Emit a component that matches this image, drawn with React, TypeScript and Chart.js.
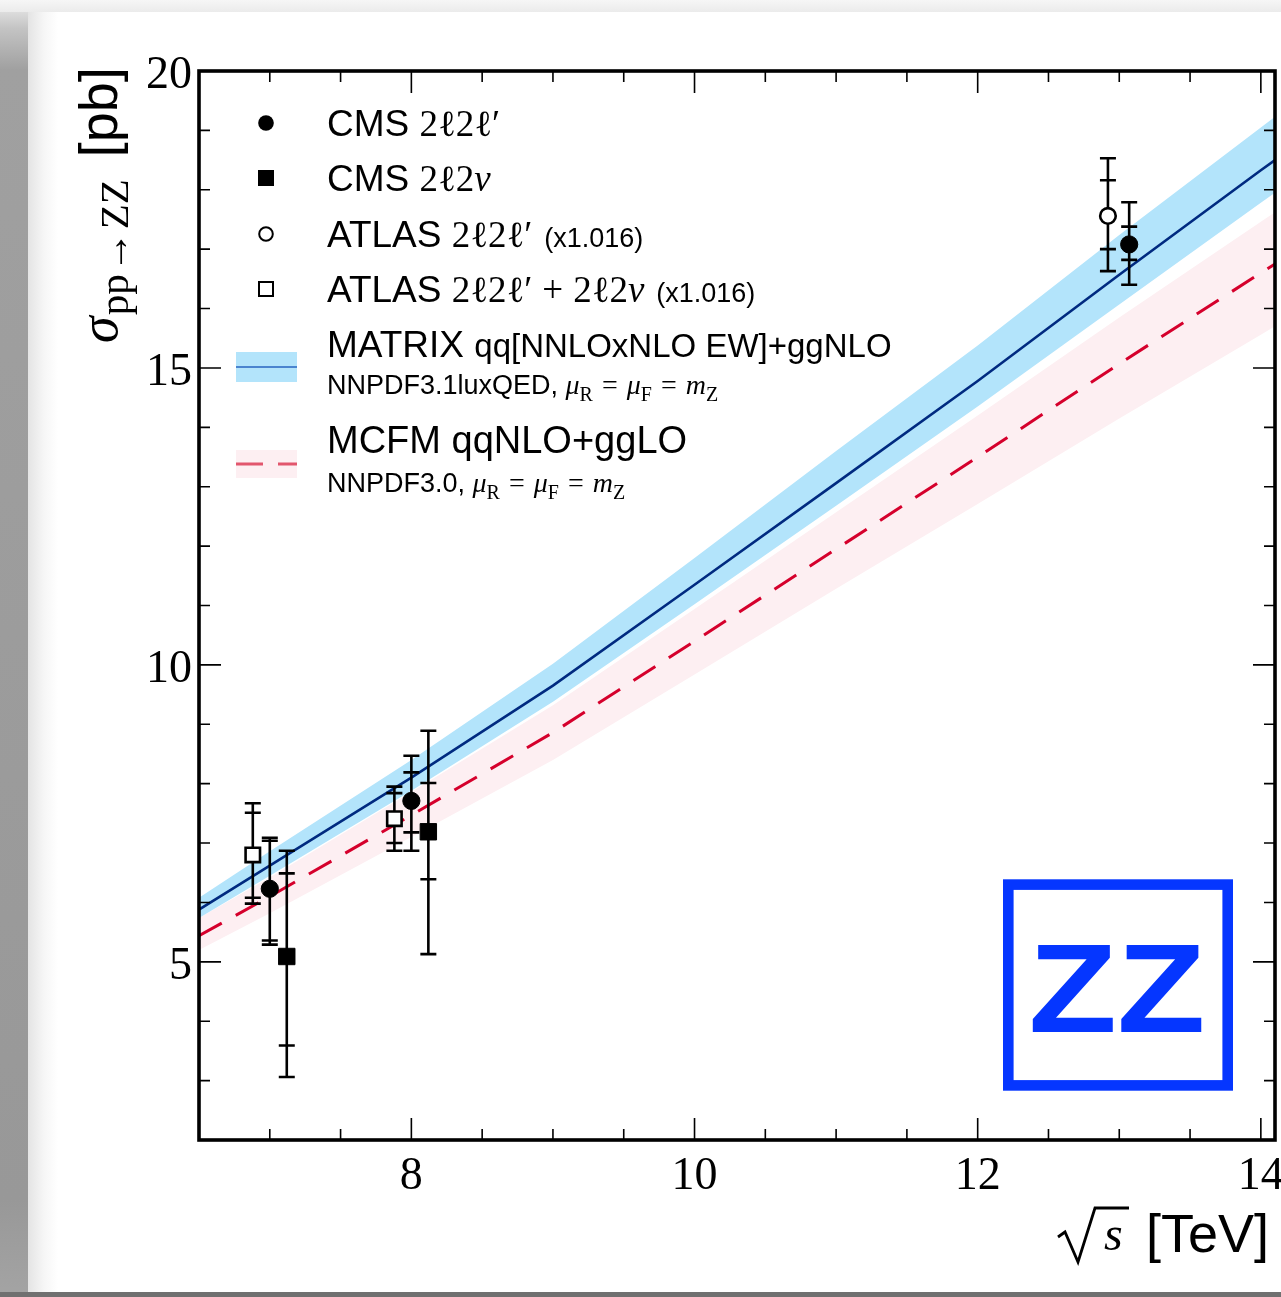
import React, { useEffect, useRef } from 'react';
import { Chart, registerables } from 'chart.js';

Chart.register(...registerables);

// ---------- data ----------
const ENERGY_TH = [6.5, 7, 8, 9, 10, 11, 12, 13, 14, 14.1];
const MATRIX_C = [5.88, 6.62, 8.1, 9.65, 11.35, 13.06, 14.78, 16.57, 18.33, 18.5];
const MATRIX_HI = [6.08, 6.86, 8.4, 10.02, 11.8, 13.6, 15.38, 17.24, 19.05, 19.23];
const MATRIX_LO = [5.74, 6.45, 7.88, 9.38, 11.02, 12.68, 14.35, 16.07, 17.78, 17.95];
const MCFM_C = [5.44, 6.1, 7.47, 8.86, 10.4, 11.95, 13.5, 15.07, 16.6, 16.75];
const MCFM_HI = [5.74, 6.42, 7.86, 9.32, 10.94, 12.57, 14.2, 15.85, 17.46, 17.62];
const MCFM_LO = [5.2, 5.82, 7.1, 8.4, 9.84, 11.28, 12.71, 14.15, 15.56, 15.7];

const CMS4L_X = [7.0, 8.0, 13.07];
const CMS4L_Y = [6.23, 7.71, 17.08];
const CMS4L_STAT_LO = [5.36, 7.18, 16.82];
const CMS4L_STAT_HI = [7.04, 8.19, 17.38];
const CMS4L_TOT_LO = [5.29, 6.87, 16.4];
const CMS4L_TOT_HI = [7.09, 8.47, 17.79];

const CMS2L2N_X = [7.12, 8.12];
const CMS2L2N_Y = [5.09, 7.19];
const CMS2L2N_STAT_LO = [3.59, 6.39];
const CMS2L2N_STAT_HI = [6.49, 8.01];
const CMS2L2N_TOT_LO = [3.06, 5.13];
const CMS2L2N_TOT_HI = [6.87, 8.89];

const ATLAS4L_X = [12.92];
const ATLAS4L_Y = [17.56];
const ATLAS4L_STAT_LO = [17.0];
const ATLAS4L_STAT_HI = [18.16];
const ATLAS4L_TOT_LO = [16.63];
const ATLAS4L_TOT_HI = [18.53];

const ATLASC_X = [6.88, 7.88];
const ATLASC_Y = [6.8, 7.41];
const ATLASC_STAT_LO = [6.08, 7.0];
const ATLASC_STAT_HI = [7.51, 7.84];
const ATLASC_TOT_LO = [5.98, 6.87];
const ATLASC_TOT_HI = [7.67, 7.95];

const X_MIN = 6.5;
const X_MAX = 14.1;
const Y_MIN = 2;
const Y_MAX = 20;
const X_TICK_LABELS = [8, 10, 12, 14];
const Y_TICK_LABELS = [5, 10, 15, 20];
const X_MINOR_STEP = 0.5;
const Y_MINOR_STEP = 1;

const LEGEND_CMS = 'CMS';
const LEGEND_ATLAS = 'ATLAS';
const LEGEND_SCALE = '(x1.016)';
const LEGEND_MATRIX = 'MATRIX';
const LEGEND_MATRIX_DESC = 'qq[NNLOxNLO EW]+ggNLO';
const LEGEND_MATRIX_PDF = 'NNPDF3.1luxQED, ';
const LEGEND_MCFM = 'MCFM qqNLO+ggLO';
const LEGEND_MCFM_PDF = 'NNPDF3.0, ';

// ---------- style ----------
const SANS = '"Liberation Sans", Arial, Helvetica, sans-serif';
const SERIF = '"Liberation Serif", "DejaVu Serif", "Times New Roman", serif';
const OFF_X = 28;
const OFF_Y = 12;
const BLUE_BAND = '#b3e4fb';
const PINK_BAND = '#fdeff2';
const NAVY = '#002a80';
const RED = '#d5002c';

const pts = (xs: number[], ys: number[]) => xs.map((x, i) => ({ x, y: ys[i] }));

type Seg = { t: string; f: string; dy?: number; dx?: number };
function drawRich(ctx: CanvasRenderingContext2D, segs: Seg[], x: number, y: number) {
  let cx = x;
  for (const s of segs) {
    ctx.font = s.f;
    cx += s.dx || 0;
    ctx.fillText(s.t, cx, y + (s.dy || 0));
    cx += ctx.measureText(s.t).width;
  }
  return cx;
}

function muSegs(size: number): Seg[] {
  const it = `italic ${size}px ${SERIF}`;
  const rm = `${size}px ${SERIF}`;
  const sub = `${Math.round(size * 0.72)}px ${SERIF}`;
  const d = size * 0.24;
  return [
    { t: 'μ', f: it },
    { t: 'R', f: sub, dy: d },
    { t: '=', f: rm, dx: 9 },
    { t: 'μ', f: it, dx: 9 },
    { t: 'F', f: sub, dy: d },
    { t: '=', f: rm, dx: 9 },
    { t: 'm', f: it, dx: 9 },
    { t: 'Z', f: sub, dy: d },
  ];
}

const errorBarPlugin = {
  id: 'errbars',
  beforeDatasetDraw(chart: any, args: any) {
    const ds: any = chart.data.datasets[args.index];
    if (!ds.errTotLo) return;
    const { ctx } = chart;
    const xs = chart.scales.x;
    const ys = chart.scales.y;
    ctx.save();
    ctx.strokeStyle = '#000';
    ctx.lineWidth = 2.6;
    const hw = 8;
    ds.data.forEach((p: any, i: number) => {
      const px = xs.getPixelForValue(p.x);
      const lo = ys.getPixelForValue(ds.errTotLo[i]);
      const hi = ys.getPixelForValue(ds.errTotHi[i]);
      const slo = ys.getPixelForValue(ds.errStatLo[i]);
      const shi = ys.getPixelForValue(ds.errStatHi[i]);
      ctx.beginPath();
      ctx.moveTo(px, lo);
      ctx.lineTo(px, hi);
      for (const yy of [lo, hi, slo, shi]) {
        ctx.moveTo(px - hw, yy);
        ctx.lineTo(px + hw, yy);
      }
      ctx.stroke();
    });
    ctx.restore();
  },
};

const decorPlugin = {
  id: 'decor',
  afterDraw(chart: any) {
    const { ctx, chartArea: a } = chart;
    const xs = chart.scales.x;
    const ys = chart.scales.y;
    ctx.save();
    // ticks
    ctx.strokeStyle = '#000';
    ctx.lineWidth = 1.6;
    ctx.beginPath();
    const isMajor = (v: number, arr: number[]) => arr.some((m) => Math.abs(m - v) < 1e-6);
    for (let v = Math.ceil(X_MIN / X_MINOR_STEP) * X_MINOR_STEP; v <= X_MAX + 1e-6; v += X_MINOR_STEP) {
      if (Math.abs(v - X_MIN) < 1e-6) continue;
      const px = xs.getPixelForValue(v);
      const len = isMajor(v, X_TICK_LABELS) ? 22 : 11;
      ctx.moveTo(px, a.bottom);
      ctx.lineTo(px, a.bottom - len);
      ctx.moveTo(px, a.top);
      ctx.lineTo(px, a.top + len);
    }
    for (let v = Y_MIN + Y_MINOR_STEP; v < Y_MAX - 1e-6; v += Y_MINOR_STEP) {
      const py = ys.getPixelForValue(v);
      const len = isMajor(v, Y_TICK_LABELS) ? 22 : 11;
      ctx.moveTo(a.left, py);
      ctx.lineTo(a.left + len, py);
      ctx.moveTo(a.right, py);
      ctx.lineTo(a.right - len, py);
    }
    ctx.stroke();
    // frame
    ctx.lineWidth = 3.6;
    ctx.strokeRect(a.left, a.top, a.right - a.left, a.bottom - a.top);

    // tick labels
    ctx.fillStyle = '#000';
    ctx.font = `46px ${SERIF}`;
    ctx.textAlign = 'right';
    ctx.textBaseline = 'alphabetic';
    for (const v of Y_TICK_LABELS) {
      ctx.fillText(String(v), a.left - 7, ys.getPixelForValue(v) + 17);
    }
    ctx.textAlign = 'center';
    for (const v of X_TICK_LABELS) {
      ctx.fillText(String(v), xs.getPixelForValue(v), a.bottom + 49);
    }

    // page-coordinate overlays
    ctx.translate(-OFF_X, -OFF_Y);
    ctx.textAlign = 'left';

    // y title
    ctx.save();
    ctx.translate(117, 343);
    ctx.rotate(-Math.PI / 2);
    drawRich(
      ctx,
      [
        { t: 'σ', f: `italic 54px ${SERIF}` },
        { t: 'pp', f: `41px ${SERIF}`, dy: 11, dx: 1 },
        { t: '→', f: `41px ${SERIF}`, dy: 11, dx: 2 },
        { t: 'ZZ', f: `41px ${SERIF}`, dy: 11, dx: 2 },
        { t: '[pb]', f: `54px ${SANS}`, dx: 22 },
      ],
      0,
      0
    );
    ctx.restore();

    // x title
    ctx.beginPath();
    ctx.lineWidth = 2.8;
    ctx.lineJoin = 'miter';
    ctx.moveTo(1058, 1237);
    ctx.lineTo(1065, 1232);
    ctx.lineTo(1078, 1262);
    ctx.lineTo(1095, 1208);
    ctx.lineTo(1129, 1208);
    ctx.stroke();
    ctx.font = `italic 48px ${SERIF}`;
    ctx.fillText('s', 1104, 1250);
    ctx.font = `54px ${SANS}`;
    ctx.fillText('[TeV]', 1146, 1252);

    // ZZ logo
    ctx.strokeStyle = '#0536ff';
    ctx.lineWidth = 10.6;
    ctx.strokeRect(1008.3, 884.6, 219.4, 200.8);
    ctx.save();
    ctx.translate(1117, 1032);
    ctx.scale(1.14, 1);
    ctx.fillStyle = '#0536ff';
    ctx.textAlign = 'center';
    ctx.font = `bold 127px ${SANS}`;
    ctx.fillText('ZZ', 0, 0);
    ctx.restore();

    // legend
    const L = 37;
    const sans = `${L}px ${SANS}`;
    const serif = `${L}px ${SERIF}`;
    const serifIt = `italic ${L}px ${SERIF}`;
    const small = `27px ${SANS}`;
    const mx = 266;
    const tx = 327;
    ctx.fillStyle = '#000';
    ctx.strokeStyle = '#000';
    // row 1: filled circle
    ctx.beginPath();
    ctx.arc(mx, 123, 7.8, 0, Math.PI * 2);
    ctx.fill();
    drawRich(ctx, [{ t: LEGEND_CMS + ' ', f: sans }, { t: '2ℓ2ℓ′', f: serif }], tx, 136);
    // row 2: filled square
    ctx.fillRect(mx - 8, 178 - 8, 16, 16);
    drawRich(ctx, [{ t: LEGEND_CMS + ' ', f: sans }, { t: '2ℓ2', f: serif }, { t: 'ν', f: serifIt }], tx, 191);
    // row 3: open circle
    ctx.lineWidth = 2;
    ctx.beginPath();
    ctx.arc(mx, 234, 6.8, 0, Math.PI * 2);
    ctx.stroke();
    drawRich(
      ctx,
      [
        { t: LEGEND_ATLAS + ' ', f: sans },
        { t: '2ℓ2ℓ′', f: serif },
        { t: LEGEND_SCALE, f: small, dx: 12 },
      ],
      tx,
      247
    );
    // row 4: open square
    ctx.strokeRect(mx - 7, 289 - 7, 14, 14);
    drawRich(
      ctx,
      [
        { t: LEGEND_ATLAS + ' ', f: sans },
        { t: '2ℓ2ℓ′', f: serif },
        { t: '+', f: serif, dx: 10 },
        { t: '2ℓ2', f: serif, dx: 10 },
        { t: 'ν', f: serifIt },
        { t: LEGEND_SCALE, f: small, dx: 12 },
      ],
      tx,
      302
    );
    // row 5: MATRIX band
    ctx.fillStyle = BLUE_BAND;
    ctx.fillRect(236, 352, 61, 30);
    ctx.strokeStyle = '#4a84cf';
    ctx.lineWidth = 2.2;
    ctx.beginPath();
    ctx.moveTo(236, 367);
    ctx.lineTo(297, 367);
    ctx.stroke();
    ctx.fillStyle = '#000';
    drawRich(
      ctx,
      [
        { t: LEGEND_MATRIX + ' ', f: sans },
        { t: LEGEND_MATRIX_DESC, f: `33px ${SANS}` },
      ],
      tx,
      357
    );
    drawRich(ctx, [{ t: LEGEND_MATRIX_PDF, f: `27px ${SANS}` }, ...muSegs(28)], tx, 394);
    // row 6: MCFM band
    ctx.fillStyle = PINK_BAND;
    ctx.fillRect(236, 450, 61, 28);
    ctx.strokeStyle = '#e2566d';
    ctx.lineWidth = 3;
    ctx.setLineDash([27, 15]);
    ctx.beginPath();
    ctx.moveTo(236, 464);
    ctx.lineTo(297, 464);
    ctx.stroke();
    ctx.setLineDash([]);
    ctx.fillStyle = '#000';
    drawRich(ctx, [{ t: LEGEND_MCFM, f: `38px ${SANS}` }], tx, 453);
    drawRich(ctx, [{ t: LEGEND_MCFM_PDF, f: `27px ${SANS}` }, ...muSegs(28)], tx, 492);

    ctx.restore();
  },
};

export default function App() {
  const ref = useRef<HTMLCanvasElement>(null);
  useEffect(() => {
    const canvas = ref.current;
    if (!canvas) return;
    const chart = new Chart(canvas, {
      type: 'line',
      data: {
        datasets: [
          {
            label: 'MCFM band up',
            data: pts(ENERGY_TH, MCFM_HI),
            borderWidth: 0,
            pointRadius: 0,
            backgroundColor: PINK_BAND,
            fill: '+1',
            order: 10,
            tension: 0,
          },
          {
            label: 'MCFM band down',
            data: pts(ENERGY_TH, MCFM_LO),
            borderWidth: 0,
            pointRadius: 0,
            fill: false,
            order: 10,
            tension: 0,
          },
          {
            label: 'MATRIX band up',
            data: pts(ENERGY_TH, MATRIX_HI),
            borderWidth: 0,
            pointRadius: 0,
            backgroundColor: BLUE_BAND,
            fill: '+1',
            order: 9,
            tension: 0,
          },
          {
            label: 'MATRIX band down',
            data: pts(ENERGY_TH, MATRIX_LO),
            borderWidth: 0,
            pointRadius: 0,
            fill: false,
            order: 9,
            tension: 0,
          },
          {
            label: 'MCFM',
            data: pts(ENERGY_TH, MCFM_C),
            borderColor: RED,
            borderWidth: 3,
            borderDash: [26, 16],
            pointRadius: 0,
            fill: false,
            order: 8,
            tension: 0,
          },
          {
            label: 'MATRIX',
            data: pts(ENERGY_TH, MATRIX_C),
            borderColor: NAVY,
            borderWidth: 2.6,
            pointRadius: 0,
            fill: false,
            order: 7,
            tension: 0,
          },
          {
            label: 'ATLAS 2l2l+2l2v',
            data: pts(ATLASC_X, ATLASC_Y),
            showLine: false,
            pointStyle: 'rect',
            pointRadius: 10.2,
            backgroundColor: '#fff',
            borderColor: '#000',
            borderWidth: 2.6,
            order: 4,
            errStatLo: ATLASC_STAT_LO,
            errStatHi: ATLASC_STAT_HI,
            errTotLo: ATLASC_TOT_LO,
            errTotHi: ATLASC_TOT_HI,
          } as any,
          {
            label: 'CMS 2l2l',
            data: pts(CMS4L_X, CMS4L_Y),
            showLine: false,
            pointStyle: 'circle',
            pointRadius: 8.6,
            backgroundColor: '#000',
            borderColor: '#000',
            borderWidth: 1,
            order: 3,
            errStatLo: CMS4L_STAT_LO,
            errStatHi: CMS4L_STAT_HI,
            errTotLo: CMS4L_TOT_LO,
            errTotHi: CMS4L_TOT_HI,
          } as any,
          {
            label: 'CMS 2l2v',
            data: pts(CMS2L2N_X, CMS2L2N_Y),
            showLine: false,
            pointStyle: 'rect',
            pointRadius: 11.6,
            backgroundColor: '#000',
            borderColor: '#000',
            borderWidth: 1,
            order: 2,
            errStatLo: CMS2L2N_STAT_LO,
            errStatHi: CMS2L2N_STAT_HI,
            errTotLo: CMS2L2N_TOT_LO,
            errTotHi: CMS2L2N_TOT_HI,
          } as any,
          {
            label: 'ATLAS 2l2l',
            data: pts(ATLAS4L_X, ATLAS4L_Y),
            showLine: false,
            pointStyle: 'circle',
            pointRadius: 7.8,
            backgroundColor: '#fff',
            borderColor: '#000',
            borderWidth: 2.6,
            order: 1,
            errStatLo: ATLAS4L_STAT_LO,
            errStatHi: ATLAS4L_STAT_HI,
            errTotLo: ATLAS4L_TOT_LO,
            errTotHi: ATLAS4L_TOT_HI,
          } as any,
        ],
      },
      options: {
        animation: false,
        responsive: false,
        devicePixelRatio: 1,
        events: [],
        layout: { autoPadding: false, padding: { left: 171, top: 59, right: 6, bottom: 152 } },
        scales: {
          x: { type: 'linear', min: X_MIN, max: X_MAX, display: false },
          y: { type: 'linear', min: Y_MIN, max: Y_MAX, display: false },
        },
        plugins: {
          legend: { display: false },
          tooltip: { enabled: false },
          title: { display: false },
        },
      },
      plugins: [errorBarPlugin, decorPlugin],
    });
    return () => chart.destroy();
  }, []);

  return (
    <div
      style={{
        position: 'absolute',
        left: 0,
        top: 0,
        width: 1281,
        height: 1297,
        overflow: 'hidden',
        background: '#9b9b9b',
      }}
    >
      <div
        style={{
          position: 'absolute',
          left: 0,
          top: 0,
          width: 28,
          height: 1297,
          background:
            'linear-gradient(to bottom, #efefef 0px, #c4c4c4 28px, #a0a0a0 70px, #989898 1200px, #a4a4a4 1297px)',
        }}
      />
      <div
        style={{
          position: 'absolute',
          left: 0,
          top: 0,
          width: 1281,
          height: 12,
          background: 'linear-gradient(to bottom, #f6f6f6, #ebebeb)',
        }}
      />
      <div
        style={{
          position: 'absolute',
          left: 28,
          top: 12,
          width: 1253,
          height: 1280,
          background: 'linear-gradient(to right, #e4e4e4 0px, #f6f6f6 16px, #ffffff 30px)',
        }}
      />
      <div
        style={{
          position: 'absolute',
          left: 0,
          top: 1292,
          width: 1281,
          height: 5,
          background: '#707070',
        }}
      />
      <canvas
        ref={ref}
        width={1253}
        height={1280}
        style={{ position: 'absolute', left: 28, top: 12, width: 1253, height: 1280 }}
      />
    </div>
  );
}
